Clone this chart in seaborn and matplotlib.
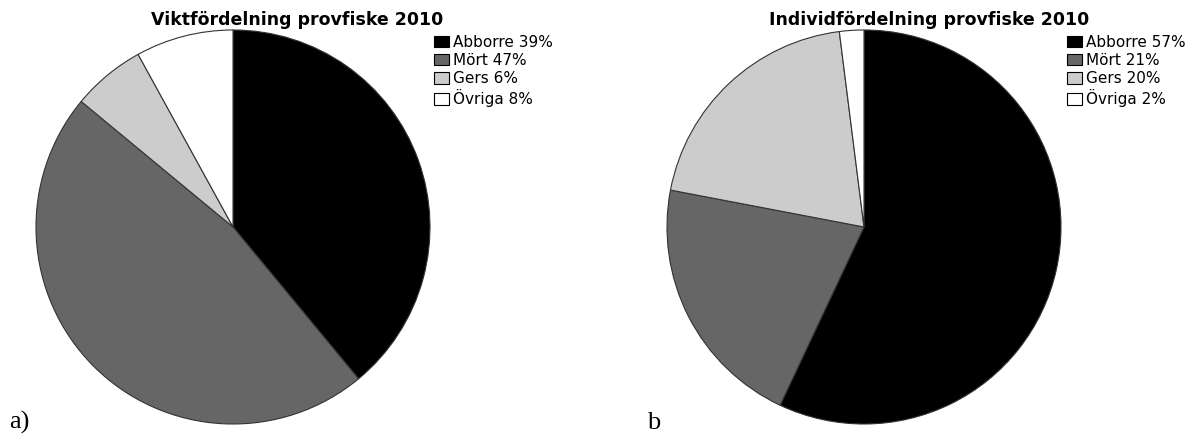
import seaborn as sns
from matplotlib import pyplot as plt

# data
species = ["Abborre", "Mört", "Gers", "Övriga"]
weight_pct = [39, 47, 6, 8]
count_pct = [57, 21, 20, 2]
titles = ["Viktfördelning provfiske 2010", "Individfördelning provfiske 2010"]
panel_labels = ["a)", "b"]

colors = ["#000000", "#666666", "#cccccc", "#ffffff"]

sns.set_style("white")
plt.rcParams["font.family"] = ["DejaVu Sans"]
plt.rcParams["text.color"] = "black"

W, H = 1191, 434
fig = plt.figure(figsize=(W / 100, H / 100), dpi=100)


def px_axes(x0, y0, w, h):
    return fig.add_axes([x0 / W, 1 - (y0 + h) / H, w / W, h / H])


def draw_pie(ax, values, title_x, legend_x, title):
    ax.pie(values, colors=colors, startangle=90, counterclock=False,
           wedgeprops=dict(edgecolor="#333333", linewidth=0.8))
    ax.set_xlim(-1, 1)
    ax.set_ylim(-1, 1)
    ax.set_aspect("equal")
    ax.axis("off")
    labels = [f"{s} {v}%" for s, v in zip(species, values)]
    handles = [plt.Rectangle((0, 0), 1, 1, facecolor=c, edgecolor="#000000", linewidth=0.8)
               for c in colors]
    fig.legend(handles, labels, loc="upper left", bbox_to_anchor=(legend_x / W, 1 - 35 / H),
               frameon=False, fontsize=11, borderpad=0, borderaxespad=0,
               handlelength=1.0, handleheight=0.78, handletextpad=0.26, labelspacing=0.2,
               labelcolor="black")
    fig.text(title_x / W, 1 - 25 / H, title, ha="center", va="baseline",
             fontsize=12.5, fontweight="bold", color="black")


ax1 = px_axes(36, 30, 394, 394)
draw_pie(ax1, weight_pct, 297, 434, titles[0])

ax2 = px_axes(667, 30, 394, 394)
draw_pie(ax2, count_pct, 929, 1067, titles[1])

for x, lab in zip([9, 647], panel_labels):
    fig.text(x / W, 1 - 429 / H, lab, ha="left", va="baseline",
             fontsize=19, family="Liberation Serif", color="black")

fig.savefig("out.png", dpi=100)
